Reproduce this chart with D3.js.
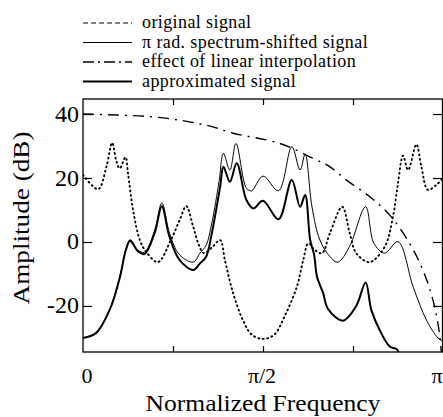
<!doctype html>
<html>
<head>
<meta charset="utf-8">
<script src="https://d3js.org/d3.v7.min.js"></script>
<style>
  body { margin: 0; background: #fff; }
  text { font-family: "Liberation Serif", "DejaVu Serif", serif; fill: #000; }
</style>
</head>
<body>
<svg width="443" height="417"></svg>
<script>
// frequency is given as a fraction of pi, amplitude in dB
var original = [[0,21],[0.042,16.5],[0.065,23.5],[0.081,31],[0.092,25.6],[0.102,23],[0.118,26.5],
  [0.125,21.5],[0.139,10],[0.158,0.6],[0.175,-3],[0.208,-6.3],[0.244,0.6],[0.269,7],[0.287,11.2],
  [0.306,4.8],[0.322,-1],[0.336,-3.5],[0.36,-1.5],[0.381,0.6],[0.394,-5.6],[0.417,-16],[0.444,-24.4],
  [0.469,-29],[0.5,-30.3],[0.531,-29],[0.561,-23],[0.594,-14],[0.612,-5.5],[0.626,-0.4],[0.644,-2.5],
  [0.664,-3.5],[0.686,2.8],[0.72,11],[0.741,2.7],[0.759,-3.5],[0.796,-6.3],[0.838,-1.5],[0.861,7.9],
  [0.875,18.4],[0.889,27],[0.903,22.5],[0.926,30.5],[0.94,23.5],[0.958,16.3],[0.981,17.8],[1,20]];

var shifted = [[0,-30],[0.036,-28.4],[0.075,-20.8],[0.103,-10.6],[0.119,-2.3],[0.131,0.7],[0.153,-2.6],
  [0.171,-3.2],[0.199,3.6],[0.219,12.2],[0.24,2.8],[0.268,-4],[0.306,-6.3],[0.325,-3.5],[0.342,-1],
  [0.358,6],[0.378,19],[0.39,27.7],[0.408,22.5],[0.425,30.8],[0.454,16.8],[0.468,16],[0.5,20.6],
  [0.543,16],[0.58,29.8],[0.603,22.5],[0.617,27.5],[0.636,11],[0.658,0.6],[0.686,-4.6],[0.708,-6.3],
  [0.74,-1.5],[0.785,11],[0.808,-0.4],[0.838,-3.5],[0.875,0.1],[0.917,-14],[0.954,-24.4],[0.986,-30],[1,-31]];

var interpEffect = [[0,40],[0.092,39.7],[0.185,39.2],[0.268,38.1],[0.325,36.9],[0.361,36],[0.417,34],
  [0.547,30.8],[0.64,26.1],[0.686,23.5],[0.731,19.4],[0.796,14.2],[0.852,8.4],[0.907,-0.4],[0.944,-8.75],
  [0.972,-18.1],[0.99,-28.5],[1,-42]];

var approximated = [[0,-30],[0.036,-28.5],[0.075,-21],[0.103,-10.8],[0.119,-2.5],[0.131,0.4],[0.153,-3],
  [0.171,-3.75],[0.199,2.8],[0.219,11.2],[0.24,1.7],[0.268,-5.6],[0.306,-8.75],[0.325,-6.7],[0.342,-4.6],
  [0.358,2.8],[0.381,17.3],[0.39,23.5],[0.408,18.8],[0.427,24.6],[0.454,13.1],[0.473,10.5],[0.5,12.9],
  [0.543,7.1],[0.58,19.4],[0.603,11],[0.617,14.7],[0.631,0.6],[0.642,-4],[0.65,-10.8],[0.667,-16],
  [0.681,-21],[0.722,-24.6],[0.759,-20],[0.785,-12.7],[0.801,-21.3],[0.824,-27.5],[0.852,-32.7],
  [0.871,-33.5],[0.883,-36],[0.9,-40]];

var xTicks = [0, 0.25, 0.5, 0.75, 1];
var xTickLabels = ["0", "", "\u03c0/2", "", "\u03c0"];
var yTicks = [40, 20, 0, -20];
var legendLabels = ["original signal", "\u03c0 rad. spectrum-shifted signal",
  "effect of linear interpolation", "approximated signal"];

var svg = d3.select("svg");
var pLeft = 83, pRight = 443, pTop = 99, pBottom = 352;

var x = d3.scaleLinear().domain([0, 1]).range([pLeft, pRight]);
var y = d3.scaleLinear().domain([-34.4, 44.7]).range([pBottom, pTop]);

svg.append("clipPath").attr("id", "plot")
  .append("rect").attr("x", pLeft).attr("y", pTop).attr("width", pRight - pLeft).attr("height", pBottom - pTop);

var line = d3.line()
  .x(function(d) { return x(d[0]); })
  .y(function(d) { return y(d[1]); })
  .curve(d3.curveCatmullRom.alpha(0.5));

// series styles: dotted, thin, dash-dot, thick
var styles = [
  { data: original, width: 1.9, dash: "1,3.5", cap: "round" },
  { data: shifted, width: 1, dash: null, cap: "butt" },
  { data: interpEffect, width: 1.4, dash: "11,6,2,6", cap: "butt" },
  { data: approximated, width: 2, dash: null, cap: "butt" }
];

var plot = svg.append("g").attr("clip-path", "url(#plot)");
styles.forEach(function(s) {
  plot.append("path")
    .attr("d", line(s.data))
    .attr("fill", "none")
    .attr("stroke", "#000")
    .attr("stroke-width", s.width)
    .attr("stroke-linecap", s.cap)
    .attr("stroke-dasharray", s.dash);
});

// frame
svg.append("rect").attr("x", pLeft).attr("y", pTop).attr("width", pRight - pLeft - 0.5).attr("height", pBottom - pTop)
  .attr("fill", "none").attr("stroke", "#000").attr("stroke-width", 1.3);

// inward ticks
svg.append("g").attr("transform", "translate(0," + pBottom + ")")
  .call(d3.axisBottom(x).tickValues(xTicks.slice(1, 4)).tickSize(-6).tickFormat(""))
  .select(".domain").remove();
svg.append("g").attr("transform", "translate(0," + pTop + ")")
  .call(d3.axisTop(x).tickValues(xTicks.slice(1, 4)).tickSize(-6).tickFormat(""))
  .select(".domain").remove();
svg.append("g").attr("transform", "translate(" + pLeft + ",0)")
  .call(d3.axisLeft(y).tickValues(yTicks).tickSize(-9).tickFormat(""))
  .select(".domain").remove();
svg.append("g").attr("transform", "translate(" + (pRight - 1) + ",0)")
  .call(d3.axisRight(y).tickValues(yTicks).tickSize(-9).tickFormat(""))
  .select(".domain").remove();
svg.selectAll(".tick line").attr("stroke-width", 1.2);

// tick labels
svg.selectAll(".xlab").data(xTicks).enter().append("text")
  .attr("x", function(d) { return Math.min(x(d) + 4 - d * 10, 437); })
  .attr("y", 383)
  .attr("text-anchor", "middle")
  .attr("font-size", 22)
  .text(function(d, i) { return xTickLabels[i]; });

svg.selectAll(".ylab").data(yTicks).enter().append("text")
  .attr("x", 79)
  .attr("y", function(d) { return y(d) + 7.5; })
  .attr("text-anchor", "end")
  .attr("font-size", 24)
  .text(function(d) { return d; });

// axis titles
svg.append("text").attr("x", 263).attr("y", 411).attr("text-anchor", "middle")
  .attr("font-size", 23).attr("textLength", 235).attr("lengthAdjust", "spacingAndGlyphs")
  .text("Normalized Frequency");
svg.append("text").attr("transform", "translate(29,218) rotate(-90)").attr("text-anchor", "middle")
  .attr("font-size", 24).attr("textLength", 173).attr("lengthAdjust", "spacingAndGlyphs")
  .text("Amplitude (dB)");

// legend
var legendDash = ["5,3", null, "11,4,2,4", null];
var legendWidth = [1.2, 1, 1.4, 2];
var rows = svg.append("g").selectAll("g").data(legendLabels).enter().append("g")
  .attr("transform", function(d, i) { return "translate(0," + (23 + i * 19.5) + ")"; });
rows.append("line").attr("x1", 83).attr("x2", 132)
  .attr("stroke", "#000")
  .attr("stroke-width", function(d, i) { return legendWidth[i]; })
  .attr("stroke-dasharray", function(d, i) { return legendDash[i]; });
rows.append("text").attr("x", 142).attr("y", 5).attr("font-size", 18)
  .attr("letter-spacing", 0.4)
  .text(function(d) { return d; });
</script>
</body>
</html>
